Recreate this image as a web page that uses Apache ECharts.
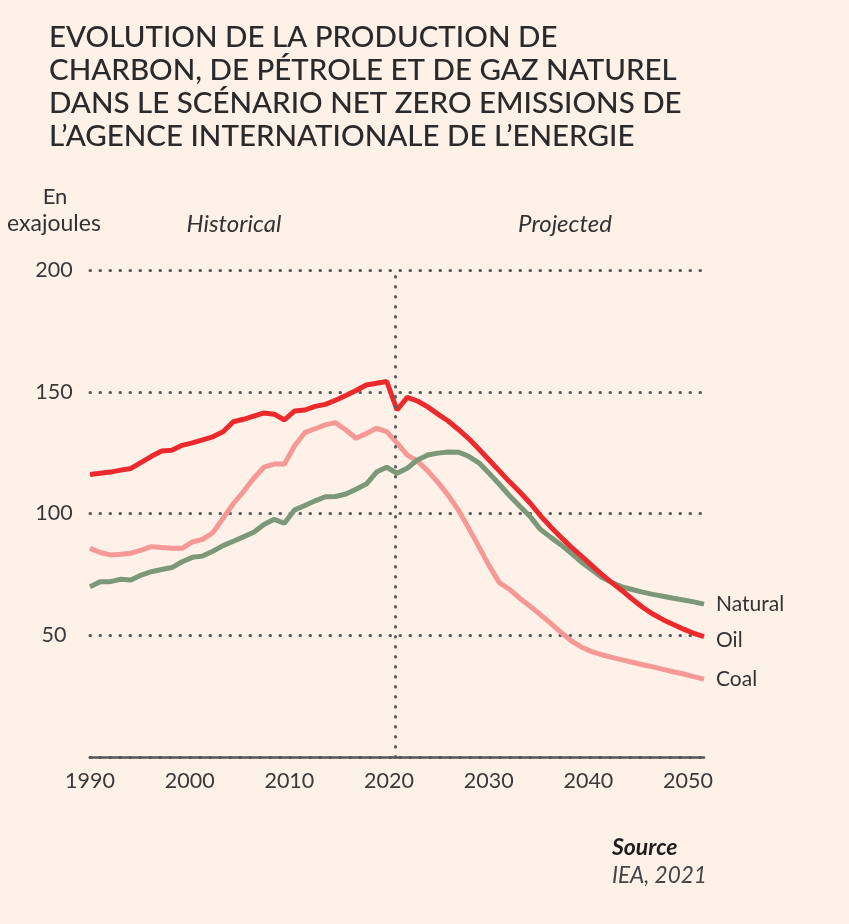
<!DOCTYPE html>
<html lang="fr">

<head>
    <meta charset="UTF-8">
    <title>Production charbon, pétrole, gaz - NZE</title>
    <script src="https://cdn.jsdelivr.net/npm/echarts@6/dist/echarts.min.js"></script>
    <style>
        html, body { margin: 0; padding: 0; background: #fdf1e8; }
        #chart { width: 849px; height: 924px; }
    </style>
</head>

<body>
    <div id="chart"></div>

    <script type="text/javascript">
        // years 1990..2050, values in exajoules
        var years = [];
        for (var y = 1990; y <= 2050; y++) years.push(y);

        var oil = [116, 116.5, 117, 117.8, 118.5, 121, 123.5, 125.7, 126, 128,
            129, 130.2, 131.5, 133.6, 137.7, 138.7, 140, 141.3, 140.8, 138.4,
            142.1, 142.5, 144, 144.8, 146.5, 148.5, 150.5, 152.8, 153.5, 154.2,
            142.5, 147.7, 146.2, 143.8, 140.8, 138, 134.5, 130.8, 126.5, 122,
            117.5, 113, 108.8, 104.3, 99.2, 94.6, 90.3, 86.3, 82.6, 78.8,
            75, 71.6, 68.3, 64.8, 61.5, 58.7, 56.4, 54.4, 52.5, 50.8, 49.4];

        var coal = [85.7, 84, 83, 83.3, 83.7, 85, 86.4, 86, 85.7, 85.7,
            88.3, 89.4, 92.1, 98, 104, 109, 114.5, 119, 120.3, 120.3,
            127.8, 133.3, 134.8, 136.4, 137.3, 134.3, 130.9, 132.8, 135, 133.6,
            129, 124, 121.5, 117.5, 112.8, 107.5, 101.4, 94, 86.4, 78.6,
            71.6, 68.8, 65.2, 61.9, 58.5, 55, 51.3, 47.8, 45.2, 43.3,
            42, 40.9, 39.9, 38.9, 37.9, 37, 36, 35, 34.1, 33, 32];

        var gas = [69.9, 72, 72, 73, 72.7, 74.7, 76.1, 77, 77.8, 80.2,
            82, 82.5, 84.5, 86.8, 88.6, 90.4, 92.3, 95.5, 97.6, 96,
            101.5, 103.3, 105.2, 106.9, 107, 108, 110, 112.1, 117, 119,
            116.5, 118.6, 122, 124, 124.8, 125.3, 125.2, 123.5, 120.8, 116.5,
            112, 107.3, 103, 98.8, 93.5, 90.3, 87.2, 83.8, 80.1, 77,
            73.8, 71.6, 69.9, 68.8, 67.7, 66.8, 66, 65.2, 64.5, 63.7, 62.8];

        var yTicks = [0, 50, 100, 150, 200];
        var xTicks = [1990, 2000, 2010, 2020, 2030, 2040, 2050];

        var titleLines = [
            'EVOLUTION DE LA PRODUCTION DE',
            'CHARBON, DE PÉTROLE ET DE GAZ NATUREL',
            'DANS LE SCÉNARIO NET ZERO EMISSIONS DE',
            'L’AGENCE INTERNATIONALE DE L’ENERGIE'
        ];

        function pairs(vals) {
            return vals.map(function (v, i) { return [years[i], v]; });
        }

        var FONT = 'Lato, "Open Sans", sans-serif';
        var TXT = '#333333';
        var DOTS = { color: '#5a5a5a', width: 3, type: [0.5, 9.5], cap: 'round' };

        var myChart = echarts.init(document.getElementById('chart'));

        var option = {
            backgroundColor: '#fdf1e8',
            animation: false,
            textStyle: { fontFamily: FONT },
            grid: { left: 90, right: 145, top: 270, bottom: 167 },
            xAxis: [{
                type: 'value',
                min: 1990,
                max: 2050,
                axisLine: { show: true, lineStyle: { color: '#555', width: 2.5 } },
                axisTick: { show: false },
                axisLabel: { show: false },
                splitLine: { show: false }
            }, {
                // label axis, the designer placed the year labels slightly tighter
                type: 'value',
                position: 'bottom',
                min: 1990,
                max: 2051.6,
                interval: 10,
                axisLine: { show: false },
                axisTick: { show: false },
                splitLine: { show: false },
                axisLabel: {
                    margin: 13,
                    fontSize: 21.5,
                    color: '#3a3a3a',
                    fontFamily: FONT,
                    showMaxLabel: false,
                    formatter: function (v) { return xTicks.indexOf(v) >= 0 ? String(v) : ''; }
                }
            }],
            yAxis: {
                type: 'value',
                min: yTicks[0],
                max: yTicks[yTicks.length - 1],
                interval: 50,
                axisLine: { show: false },
                axisTick: { show: false },
                axisLabel: {
                    margin: 36,
                    align: 'center',
                    fontSize: 21.5,
                    color: '#3a3a3a',
                    fontFamily: FONT,
                    formatter: function (v) { return v === 0 ? '' : String(v); }
                },
                splitLine: { lineStyle: DOTS }
            },
            series: [{
                name: 'Coal',
                type: 'line',
                data: pairs(coal),
                showSymbol: false,
                z: 2,
                lineStyle: { color: '#f69896', width: 5 },
                itemStyle: { color: '#f69896' },
                endLabel: { show: true, formatter: 'Coal', color: TXT, fontSize: 21, fontFamily: FONT, distance: 12 },
                markLine: {
                    silent: true,
                    symbol: 'none',
                    label: { show: false },
                    lineStyle: DOTS,
                    data: [{ xAxis: 2019.8 }]
                }
            }, {
                name: 'Natural',
                type: 'line',
                data: pairs(gas),
                showSymbol: false,
                z: 3,
                lineStyle: { color: '#7b9878', width: 5 },
                itemStyle: { color: '#7b9878' },
                endLabel: { show: true, formatter: 'Natural', color: TXT, fontSize: 21, fontFamily: FONT, distance: 12 }
            }, {
                name: 'Oil',
                type: 'line',
                data: pairs(oil),
                showSymbol: false,
                z: 4,
                lineStyle: { color: '#ec2a2d', width: 5 },
                itemStyle: { color: '#ec2a2d' },
                endLabel: { show: true, formatter: 'Oil', color: TXT, fontSize: 21, fontFamily: FONT, distance: 12, offset: [0, 4] }
            }],
            graphic: [{
                type: 'text',
                left: 49,
                top: 21,
                style: {
                    text: titleLines.join('\n'),
                    font: '500 29.5px ' + FONT,
                    lineHeight: 33,
                    fill: '#2a2a2a'
                }
            }, {
                type: 'text',
                x: 55,
                y: 197,
                style: { text: 'En', font: '22px ' + FONT, fill: TXT, align: 'center', verticalAlign: 'middle' }
            }, {
                type: 'text',
                x: 54,
                y: 224,
                style: { text: 'exajoules', font: '23px ' + FONT, fill: TXT, align: 'center', verticalAlign: 'middle' }
            }, {
                type: 'text',
                x: 234,
                y: 224,
                style: { text: 'Historical', font: 'italic 24px ' + FONT, fill: TXT, align: 'center', verticalAlign: 'middle' }
            }, {
                type: 'text',
                x: 565,
                y: 224,
                style: { text: 'Projected', font: 'italic 24px ' + FONT, fill: TXT, align: 'center', verticalAlign: 'middle' }
            }, {
                type: 'text',
                x: 612,
                y: 848,
                style: { text: 'Source', font: 'italic bold 23px ' + FONT, fill: '#1e1e1e', align: 'left', verticalAlign: 'middle' }
            }, {
                type: 'text',
                x: 612,
                y: 876,
                style: { text: 'IEA, 2021', font: 'italic 22.5px ' + FONT, fill: '#444', align: 'left', verticalAlign: 'middle' }
            }]
        };

        myChart.setOption(option);
        window.onresize = myChart.resize;
    </script>
</body>

</html>
